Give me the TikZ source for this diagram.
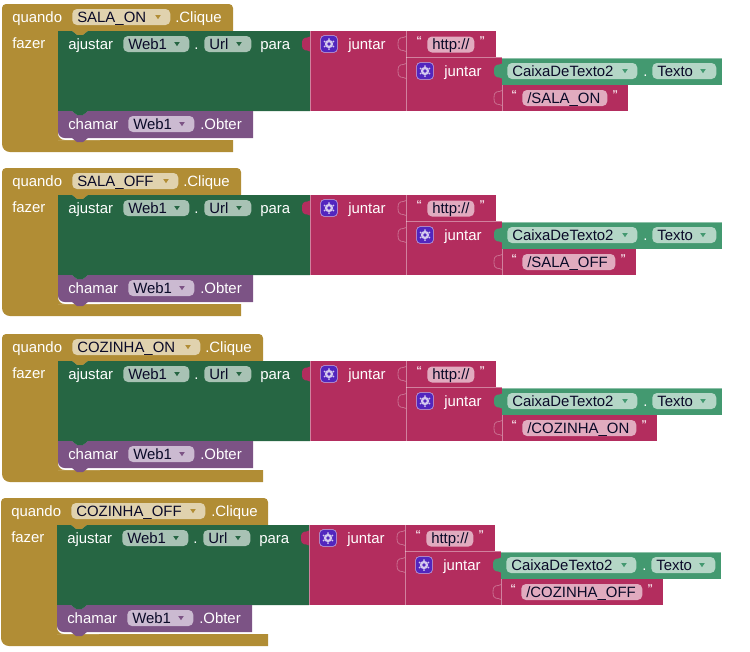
\documentclass[tikz,border=0pt]{standalone}
\usepackage{fontspec}
\setmainfont{Liberation Sans}
\usepackage{tikz}
\definecolor{evgold}{RGB}{177,141,53}
\definecolor{evgoldlt}{RGB}{224,210,174}
\definecolor{setgreen}{RGB}{38,102,67}
\definecolor{setgreenlt}{RGB}{168,194,180}
\definecolor{callpurple}{RGB}{124,83,133}
\definecolor{callpurplelt}{RGB}{203,186,209}
\definecolor{txtred}{RGB}{179,45,94}
\definecolor{txtredlt}{RGB}{225,171,191}
\definecolor{getteal}{RGB}{67,153,112}
\definecolor{gettealt}{RGB}{180,214,198}
\definecolor{gearbox}{RGB}{82,38,190}
\definecolor{pilltext}{RGB}{10,10,40}
\newcommand{\socket}[2]{(#1,#2-7.5) .. controls (#1-3,#2-5) and (#1-8,#2-9) .. (#1-8,#2) .. controls (#1-8,#2+9) and (#1-3,#2+5) .. (#1,#2+7.5)}
\newcommand{\ddtri}[3]{\fill[#3] (#1-2.8,#2-2) -- (#1+2.8,#2-2) -- (#1,#2+2.2) -- cycle;}
\begin{document}
\begin{tikzpicture}[x=0.75pt, y=-0.75pt,
  word/.style={font=\fontsize{11.2}{13}\selectfont, text=white, inner sep=0pt, anchor=base west},
  quote/.style={font=\bfseries\fontsize{8.5}{9}\selectfont, text=white!85!txtred, inner sep=0pt, anchor=base west},
  pill/.style={font=\fontsize{11.2}{13}\selectfont, text=pilltext, rounded corners=3.5pt,
               inner ysep=0pt, inner xsep=3.75pt, text height=10pt, text depth=2pt, align=left,
               text width=#1*0.75pt-7.5pt, anchor=west},
  edge/.style={draw=white, draw opacity=0.4, line width=0.5pt},
  sock/.style={draw=white, draw opacity=0.3, line width=0.6pt}
]
\useasboundingbox (0,0) rectangle (750,651);
\foreach \dx/\dy/\ident/\lbl/\rgold/\clk/\lblw/\rtxt/\txtw/\pth in {
  0/0/a/SALA\_ON/233/175/98/628/85/SALA\_ON,
  0/164/b/SALA\_OFF/241/183/106/636/93/SALA\_OFF,
  0/330/c/COZINHA\_ON/263/205/128/657/114/COZINHA\_ON,
  -1/494/d/COZINHA\_OFF/269/212/134/664/121/COZINHA\_OFF}{
  \begin{scope}[shift={(\dx,\dy)}]
    % event block
    \fill[evgold] (\rgold,31) -- (88,31) -- (83,35) -- (77,35) -- (72,31) -- (58,31) -- (58,140) -- (\rgold,140) -- (\rgold,152)
      [rounded corners=6pt] -- (2,152) [rounded corners=3pt] -- (2,4) -- (\rgold,4) [sharp corners] -- cycle;
    % setter, call
    \fill[setgreen] (58,31) -- (72,31) -- (77,35) -- (83,35) -- (88,31) -- (310,31) -- (310,111) -- (58,111) -- cycle;
    \fill[white] (58,125) -- (58,140) -- (100,140) -- (100,130) -- cycle;
    \fill[evgold] (58,125) -- (58,132) [rounded corners=5pt] -- (58,140) -- (70,140) [sharp corners] -- (56,140) -- (56,125) -- cycle;
    \fill[callpurple] (58,111) -- (72,111) -- (77,115) -- (83,115) -- (88,111) -- (253,111) -- (253,138)
      -- (88,138) -- (83,142) -- (77,142) -- (72,138) [rounded corners=5pt] -- (58,138) [sharp corners] -- cycle;
    \fill[setgreen] (72,111) -- (77,115) -- (83,115) -- (88,111) -- cycle;
    % text blocks
    \fill[txtred] \socket{310}{44} -- cycle;
    \fill[txtred] (310,31) rectangle (406,111);
    \fill[txtred] (406,31) rectangle (496,57);
    \fill[txtred] (406,57) rectangle (502,111);
    \fill[txtred] (502,85) rectangle (\rtxt,111);
    \fill[getteal] (502,58) rectangle (722,85);
    \fill[getteal] \socket{502}{71} -- cycle;
    \draw[edge] (310.5,31) -- (310.5,111);
    \draw[edge] (406.5,31) -- (406.5,111);
    \draw[edge] (406,57.5) -- (502,57.5);
    \draw[edge] (502.5,85) -- (502.5,111);
    \draw[edge] (502,58.5) -- (722,58.5);
    \draw[sock] \socket{406}{44};
    \draw[sock] \socket{406}{71};
    \draw[sock] \socket{502}{98};
    % labels
    \node[word] (quando\ident) at (12,22) {quando};
    \node[pill=\lblw, fill=evgoldlt] (ev\ident) at (72,17) {\lbl};
    \ddtri{72+\lblw-12}{17}{evgold}
    \node[word] (clk\ident) at (\clk,22) {.Clique};
    \node[word] (fazer\ident) at (12,48) {fazer};
    \node[word] (ajustar\ident) at (68,49) {ajustar};
    \node[pill=66, fill=setgreenlt] (web\ident) at (123,44) {Web1};
    \ddtri{177}{44}{setgreen}
    \node[word] (pta\ident) at (194,49) {.};
    \node[pill=47, fill=setgreenlt] (url\ident) at (204,44) {Url};
    \ddtri{239}{44}{setgreen}
    \node[word] (para\ident) at (260,49) {para};
    \node[word] (chamar\ident) at (68,129) {chamar};
    \node[pill=66, fill=callpurplelt] (webc\ident) at (128,124) {Web1};
    \ddtri{182}{124}{callpurple}
    \node[word] (obter\ident) at (200,129) {.Obter};
    % join icons
    \foreach \gx/\gy/\jx in {320/44/348, 416/71/444}{
      \node[draw=white!65!gearbox, fill=gearbox, rounded corners=2.5pt, minimum size=12.5pt, inner sep=0pt] at (\gx+9,\gy) {};
      \fill[white!75!gearbox] (\gx+9,\gy) circle (4.2);
      \foreach \a in {30,90,...,330}{ \fill[white!75!gearbox] (\gx+9,\gy) ++(\a:5) circle (1); }
      \fill[gearbox] (\gx+9,\gy) circle (1.9);
      \node[word] at (\jx,\gy+5) {juntar};
    }
    % strings
    \node[quote] (qa\ident) at (416,44) {“};
    \node[pill=47, fill=txtredlt] (http\ident) at (427,44.5) {http://};
    \node[quote] (qb\ident) at (479,44) {”};
    \node[quote] (qc\ident) at (511,98) {“};
    \node[pill=\txtw, fill=txtredlt] (pth\ident) at (522,98) {/\pth};
    \node[quote] (qd\ident) at (522+\txtw+5,98) {”};
    % getter
    \node[pill=130, fill=gettealt] (caixa\ident) at (507,71) {CaixaDeTexto2};
    \ddtri{625}{71}{getteal}
    \node[word] (ptb\ident) at (643,76) {.};
    \node[pill=64, fill=gettealt] (texto\ident) at (652,71) {Texto};
    \ddtri{703}{71}{getteal}
  \end{scope}
}
\end{tikzpicture}
\end{document}
